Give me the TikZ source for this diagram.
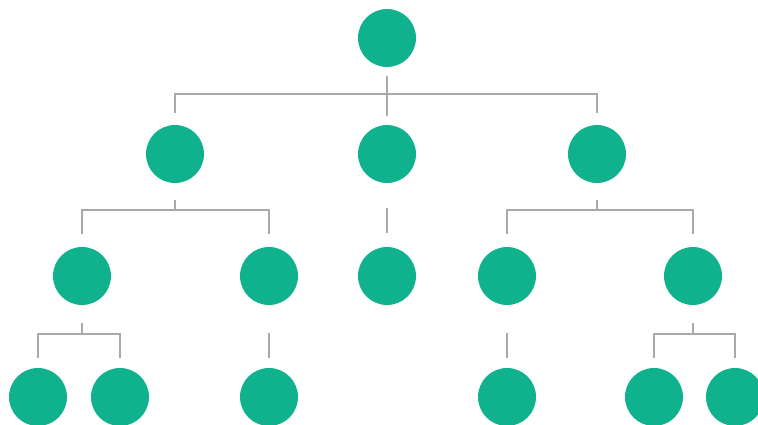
\documentclass[tikz,border=0pt]{standalone}
\usetikzlibrary{calc}
\definecolor{leaf}{HTML}{10B28E}
\definecolor{wire}{HTML}{A9A9A9}
\tikzset{
  dot/.style={circle, fill=leaf, draw=none, inner sep=0pt, minimum size=58pt},
  link/.style={draw=wire, line width=1.8pt}
}
\begin{document}
\begin{tikzpicture}[x=1pt, y=-1pt]
  \path[use as bounding box, clip] (0,0) rectangle (758,425);

  % nodes, level by level
  \node[dot] (r) at (387,38) {};

  \node[dot] (a) at (175,154) {};
  \node[dot] (b) at (387,154) {};
  \node[dot] (c) at (597,154) {};

  \node[dot] (a1) at (82,276) {};
  \node[dot] (a2) at (269,276) {};
  \node[dot] (b1) at (387,276) {};
  \node[dot] (c1) at (507,276) {};
  \node[dot] (c2) at (693,276) {};

  \node[dot] (a11) at (38,397) {};
  \node[dot] (a12) at (120,397) {};
  \node[dot] (a21) at (269,397) {};
  \node[dot] (c11) at (507,397) {};
  \node[dot] (c21) at (654,397) {};
  \node[dot] (c22) at (735,397) {};

  % root to level two
  \draw[link] ([yshift=-9pt]r.south) -- ([yshift=9pt]b.north);
  \draw[link] ([yshift=12pt]a.north) -- ++(0,-19) -| ([yshift=12pt]c.north);

  % level two to level three
  \draw[link] ([yshift=-17pt]a.south) -- ++(0,10);
  \draw[link] ([yshift=13pt]a1.north) -- ++(0,-24) -| ([yshift=13pt]a2.north);
  \draw[link] ([yshift=-25pt]b.south) -- ([yshift=14pt]b1.north);
  \draw[link] ([yshift=-17pt]c.south) -- ++(0,10);
  \draw[link] ([yshift=13pt]c1.north) -- ++(0,-24) -| ([yshift=13pt]c2.north);

  % level three to level four
  \draw[link] ([yshift=-18pt]a1.south) -- ++(0,11);
  \draw[link] ([yshift=10pt]a11.north) -- ++(0,-24) -| ([yshift=10pt]a12.north);
  \draw[link] ([yshift=-28pt]a2.south) -- ([yshift=10pt]a21.north);
  \draw[link] ([yshift=-28pt]c1.south) -- ([yshift=10pt]c11.north);
  \draw[link] ([yshift=-18pt]c2.south) -- ++(0,11);
  \draw[link] ([yshift=10pt]c21.north) -- ++(0,-24) -| ([yshift=10pt]c22.north);
\end{tikzpicture}
\end{document}
